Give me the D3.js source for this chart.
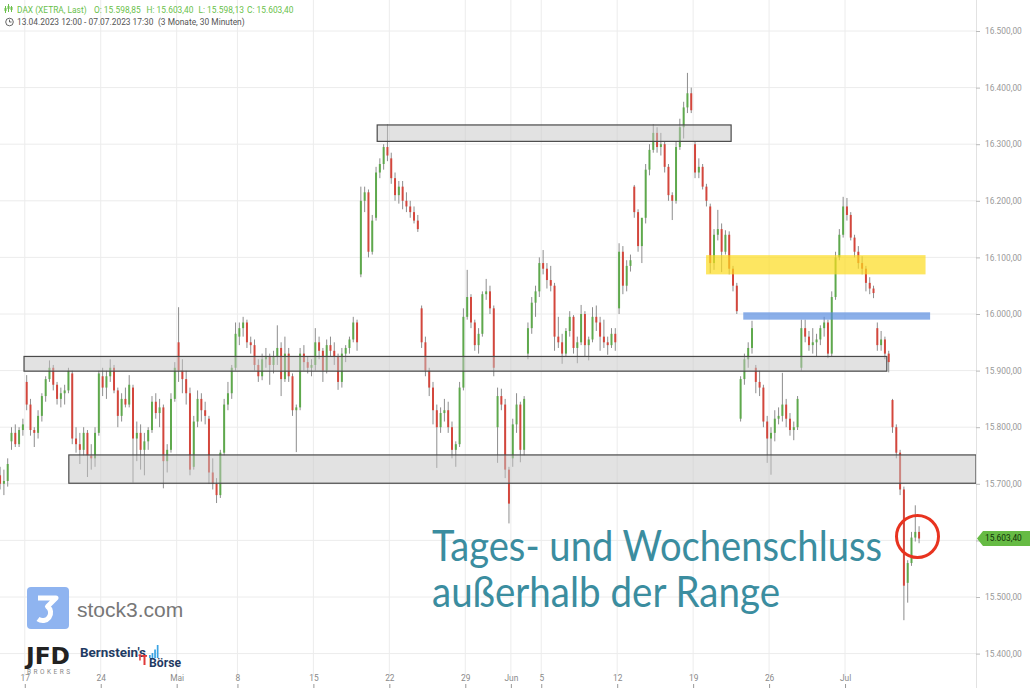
<!DOCTYPE html>
<html><head><meta charset="utf-8">
<script src="https://cdn.jsdelivr.net/npm/d3@7"></script>
<style>html,body{margin:0;padding:0;background:#fff;overflow:hidden}</style>
</head><body>
<svg id="chart" width="1030" height="688"></svg>
<script>
// ---------------- DATA ----------------
const tradingDays = ["13.04","14.04","17.04","18.04","19.04","20.04","21.04","24.04","25.04","26.04","27.04","28.04",
 "02.05","03.05","04.05","05.05","08.05","09.05","10.05","11.05","12.05","15.05","16.05","17.05","18.05","19.05",
 "22.05","23.05","24.05","25.05","26.05","29.05","30.05","31.05","01.06","02.06","05.06","06.06","07.06","08.06",
 "09.06","12.06","13.06","14.06","15.06","16.06","19.06","20.06","21.06","22.06","23.06","26.06","27.06","28.06",
 "29.06","30.06","03.07","04.07","05.07","06.07","07.07"];
const slotsPerDay = 4;      // one candle = a quarter of a trading day (approx. 2 h)
const firstSlot = 1;        // 13.04 starts at 12:00

// one group of four per trading day
const open = [
 15715,15700,15705,
 15775,15790,15770,15795, 15880,15840,15795,15790, 15820,15855,15885,15905, 15875,15850,15860,15865, 15895,15780,15770,15760,
 15790,15750,15745,15790, 15890,15870,15890,15905, 15865,15820,15850,15840, 15870,15780,15790,15760, 15775,15795,15845,15825,
 15835,15740,15760,15850, 15950,15900,15885,15860, 15730,15810,15850,15830, 15815,15720,15700,15680, 15755,15840,15860,15905,
 15960,15975,15985,15950, 15945,15910,15890,15920, 15925,15910,15925,15940, 15885,15930,15890,15830, 15835,15930,15915,15905,
 15910,15950,15935,15900, 15945,15935,15925,15880, 15930,15940,15955,15985, 16070,16200,16215,16110, 16170,16250,16265,16295,
 16275,16240,16210,16225, 16200,16190,16180,16165, 16010,15950,15900,15870, 15830,15800,15825,15830, 15800,15760,15770,15870,
 15995,16030,15985,15945, 15965,16035,16040,16010, 15800,15855,15840,15725, 15745,15805,15840,15760, 15930,15975,16020,16040,
 16090,16080,16060,16050, 15960,15950,15930,15970, 15995,15940,15950,16000, 15945,15955,15995,15985, 15960,15950,15945,15965,
 16010,16110,16050,16085, 16225,16180,16120,16170, 16255,16290,16320,16295, 16300,16260,16210,16200, 16295,16330,16365,16390,
 16300,16250,16260,16225, 16190,16090,16140,16150, 16110,16140,16080,16050, 15815,15885,15920,15940, 15905,15880,15870,15810,
 15780,15790,15815,15820, 15840,15815,15795,15800, 15905,15975,15960,15945, 15950,15955,15975,15985, 15930,16030,16100,16140,
 16190,16175,16135,16110, 16090,16080,16055,16045, 15975,15945,15955,15930, 15848,15800,15755,15690, 15525,15560,15605,15615];
const high = [
 15730,15725,15745,
 15800,15805,15800,15815, 15892,15850,15800,15830, 15860,15890,15918,15910, 15880,15870,15875,15905, 15900,15800,15790,15800,
 15795,15770,15800,15900, 15905,15900,15920,15910, 15870,15860,15870,15892, 15875,15810,15805,15790, 15800,15855,15860,15850,
 15840,15770,15860,15915, 16012,15920,15900,15870, 15820,15865,15860,15845, 15820,15745,15710,15760, 15850,15880,15910,15985,
 15985,15995,15990,15960, 15955,15920,15930,15940, 15930,15935,15980,15950, 15960,15940,15895,15840, 15940,15945,15925,15920,
 15975,15960,15940,15955, 15960,15950,15930,15940, 15945,15960,15995,15990, 16225,16225,16220,16175, 16260,16275,16300,16335,
 16285,16250,16235,16235, 16215,16200,16190,16175, 16015,15960,15905,15880, 15840,15835,15850,15845, 15810,15775,15880,16010,
 16078,16035,15990,15975, 16040,16062,16050,16015, 15870,15868,15850,15730, 15815,15860,15845,15855, 15985,16030,16050,16100,
 16113,16090,16085,16055, 15995,15965,15975,16005, 15998,15960,16016,16005, 15960,16012,16015,15995, 15990,15960,15975,15975,
 16125,16120,16095,16105, 16228,16185,16125,16265, 16300,16335,16330,16320, 16305,16265,16215,16305, 16345,16375,16426,16400,
 16305,16275,16265,16230, 16195,16150,16184,16160, 16148,16146,16085,16055, 15890,15930,15950,15988, 15910,15900,15875,15820,
 15800,15830,15835,15896, 15850,15825,15810,15855, 15990,15990,15970,15975, 15965,15980,15995,15990, 16040,16110,16150,16207,
 16205,16180,16140,16120, 16102,16085,16065,16050, 15985,15970,15960,15935, 15850,15805,15760,15695, 15565,15615,15662,15625];
const low = [
 15690,15680,15695,
 15760,15765,15765,15785, 15830,15785,15765,15780, 15810,15845,15880,15865, 15840,15835,15840,15860, 15770,15755,15735,15750,
 15712,15725,15730,15785, 15855,15850,15880,15860, 15800,15810,15835,15835, 15702,15740,15725,15715, 15760,15790,15815,15800,
 15692,15720,15755,15845, 15880,15860,15840,15715, 15725,15800,15810,15805, 15700,15690,15666,15675, 15750,15830,15850,15900,
 15945,15960,15940,15930, 15900,15880,15883,15905, 15875,15895,15910,15855, 15880,15880,15820,15756, 15830,15900,15895,15890,
 15900,15920,15880,15895, 15925,15910,15866,15870, 15915,15930,15950,15935, 16065,16180,16100,16105, 16165,16240,16255,16270,
 16230,16200,16195,16185, 16180,16170,16160,16145, 15940,15890,15855,15805, 15728,15790,15810,15790, 15745,15730,15765,15865,
 15990,15975,15935,15930, 15960,16025,16000,15890, 15737,15830,15710,15630, 15730,15790,15738,15750, 15920,15965,15995,16030,
 16070,16045,16040,15935, 15940,15912,15925,15960, 15930,15913,15945,15925, 15918,15950,15970,15935, 15940,15928,15940,15935,
 16000,16035,16040,16075, 16170,16110,16090,16160, 16245,16285,16285,16280, 16250,16200,16166,16195, 16290,16310,16355,16355,
 16240,16240,16220,16190, 16072,16078,16130,16074, 16105,16070,16040,16000, 15810,15875,15905,15930, 15860,15855,15800,15737,
 15716,15775,15805,15810, 15800,15785,15777,15795, 15900,15950,15935,15930, 15925,15945,15960,15922, 15925,16025,16095,16135,
 16165,16130,16100,16080, 16070,16040,16035,16028, 15935,15935,15920,15897, 15790,15745,15680,15459, 15490,15555,15598,15595];
const close = [
 15700,15705,15735,
 15790,15770,15795,15805, 15840,15795,15790,15820, 15855,15885,15905,15875, 15850,15860,15865,15900, 15780,15770,15760,15790,
 15750,15745,15790,15895, 15870,15890,15905,15865, 15820,15850,15840,15875, 15780,15790,15760,15775, 15795,15845,15825,15835,
 15740,15760,15850,15905, 15900,15885,15860,15725, 15810,15850,15830,15820, 15720,15700,15680,15755, 15840,15860,15905,15965,
 15975,15985,15950,15945, 15910,15890,15920,15925, 15910,15925,15940,15885, 15930,15890,15830,15835, 15930,15915,15905,15910,
 15950,15935,15900,15945, 15935,15925,15880,15930, 15940,15955,15985,15950, 16200,16215,16110,16165, 16250,16265,16295,16280,
 16240,16210,16225,16200, 16190,16180,16165,16150, 15950,15900,15870,15830, 15800,15825,15830,15800, 15760,15770,15870,15995,
 16030,15985,15945,15965, 16035,16040,16010,15905, 15855,15840,15725,15665, 15805,15840,15760,15850, 15975,16020,16040,16090,
 16080,16060,16050,15960, 15950,15930,15970,15995, 15940,15950,16000,15945, 15955,15995,15985,15960, 15950,15945,15965,15950,
 16110,16050,16085,16095, 16180,16120,16170,16255, 16290,16320,16295,16300, 16260,16210,16200,16295, 16330,16365,16390,16360,
 16250,16260,16225,16200, 16090,16140,16150,16110, 16140,16080,16050,16005, 15885,15920,15940,15975, 15880,15870,15810,15780,
 15790,15815,15820,15840, 15815,15795,15800,15850, 15975,15960,15945,15950, 15955,15975,15985,15930, 16030,16100,16140,16190,
 16175,16135,16110,16090, 16080,16055,16045,16037, 15945,15955,15930,15915, 15800,15755,15690,15520, 15560,15605,15615,15603.40];

const priceTicks = [15400,15500,15600,15700,15800,15900,16000,16100,16200,16300,16400,16500];
const tickDays   = ["17.04","24.04","02.05","08.05","15.05","22.05","29.05","01.06","05.06","12.06","19.06","26.06","03.07"];
const tickLabels = ["17","24","Mai","8","15","22","29","Jun","5","12","19","26","Jul"];

const headerKeys   = ["O","H","L","C"];
const headerValues = [15598.85, 15603.40, 15598.13, 15603.40];
const lastClose = 15603.40;

// zones: start/end as trading-day position, price bounds
const zoneKind  = ["range","range","range","yellow","blue"];
const zoneStart = [25.2, 1.95, 4.9, 46.85, 49.3];
const zoneEnd   = [48.5, 58.75, 70, 61.3, 61.6];
const zoneHigh  = [16334, 15925, 15751, 16104, 16003];
const zoneLow   = [16305, 15899, 15701, 16070, 15990];

// ---------------- CHART ----------------
const svg = d3.select("#chart");
const plotRight = 976;
const FONT = "Roboto, 'Liberation Sans', Arial, sans-serif";

const x = d3.scaleLinear().domain([0, 61]).range([-5.6, -5.6 + 61 * 15.19]);
const y = d3.scaleLinear().domain([15400, 16500]).range([653.6, 31]);
const de = d3.formatLocale({decimal: ",", thousands: ".", grouping: [3], currency: ["", "€"]});
const fmt = de.format(",.2f");

svg.append("defs").append("clipPath").attr("id", "plotclip")
  .append("rect").attr("x", 0).attr("y", 0).attr("width", plotRight).attr("height", 688);

// grid
const grid = svg.append("g");
grid.selectAll(".hg").data(priceTicks).join("line")
  .attr("x1", 0).attr("x2", plotRight).attr("y1", d => y(d)).attr("y2", d => y(d))
  .attr("stroke", "#ececec").attr("stroke-width", 1);
const tickIdx = tickDays.map(d => tradingDays.indexOf(d));
grid.selectAll(".vg").data(tickIdx).join("line")
  .attr("x1", d => x(d)).attr("x2", d => x(d)).attr("y1", 0).attr("y2", 676)
  .attr("stroke", "#ececec").attr("stroke-width", 1);

// header
const hdr = svg.append("g").attr("font-family", FONT).attr("font-size", 8.4);
const ic = hdr.append("g").attr("stroke", "#6abf4b").attr("stroke-width", 1);
[[5.5,6,13,8,11],[8.5,4,12,6,9],[11.5,6,12,7,10]].forEach(c => {
  ic.append("line").attr("x1", c[0]).attr("x2", c[0]).attr("y1", c[1]).attr("y2", c[2]);
  ic.append("rect").attr("x", c[0]-1).attr("y", c[3]).attr("width", 2).attr("height", c[4]-c[3]).attr("fill", "#6abf4b").attr("stroke", "none");
});
hdr.append("text").attr("x", 17).attr("y", 13).attr("fill", "#6abf4b").text("DAX (XETRA, Last)");
const hx = [94, 146.5, 198.5, 247];
headerKeys.forEach((k, i) => {
  hdr.append("text").attr("x", hx[i]).attr("y", 13).attr("fill", "#6abf4b").text(k + ": " + fmt(headerValues[i]));
});
hdr.append("circle").attr("cx", 9.5).attr("cy", 22).attr("r", 3.8).attr("fill", "none").attr("stroke", "#555").attr("stroke-width", 0.9);
hdr.append("path").attr("d", "M9.5,19.6V22H11.6").attr("fill", "none").attr("stroke", "#555").attr("stroke-width", 0.9);
hdr.append("text").attr("x", 17).attr("y", 25).attr("fill", "#555")
  .text(`${tradingDays[0]}.2023 12:00 - ${tradingDays[tradingDays.length-1]}.2023 17:30`);
hdr.append("text").attr("x", 158).attr("y", 25).attr("fill", "#555").text("(3 Monate, 30 Minuten)");

// candles
const N = close.length;
const candles = d3.range(N).map(i => {
  const t = i + firstSlot;
  const day = Math.floor(t / slotsPerDay), slot = t % slotsPerDay;
  return {pos: day + (slot + 0.5) / slotsPerDay, o: open[i], h: high[i], l: low[i], c: close[i]};
});
const slotW = x(1 / slotsPerDay) - x(0);
const cg = svg.append("g").attr("clip-path", "url(#plotclip)");
cg.selectAll(".wick").data(candles).join("line")
  .attr("x1", d => x(d.pos)).attr("x2", d => x(d.pos))
  .attr("y1", d => y(d.h)).attr("y2", d => y(d.l))
  .attr("stroke", "#8d8d8d").attr("stroke-width", 1);
cg.selectAll(".body").data(candles).join("rect")
  .attr("x", d => x(d.pos) - slotW * 0.26).attr("width", slotW * 0.52)
  .attr("y", d => y(Math.max(d.o, d.c)))
  .attr("height", d => Math.max(1, Math.abs(y(d.o) - y(d.c))))
  .attr("fill", d => d.c >= d.o ? "#5ea94c" : "#d4463c");

// zones
const zg = svg.append("g").attr("clip-path", "url(#plotclip)");
zoneKind.forEach((k, i) => {
  const r = zg.append("rect")
    .attr("x", x(zoneStart[i])).attr("width", Math.min(x(zoneEnd[i]), plotRight) - x(zoneStart[i]))
    .attr("y", y(zoneHigh[i])).attr("height", y(zoneLow[i]) - y(zoneHigh[i]));
  if (k === "range") r.attr("fill", "#c6c6c6").attr("fill-opacity", 0.5).attr("stroke", "#4a4a4a").attr("stroke-width", 1.2);
  else if (k === "yellow") r.attr("fill", "#fcdc1e").attr("fill-opacity", 0.7);
  else r.attr("fill", "#5a8de0").attr("fill-opacity", 0.7);
});

// right axis (the 15.600 label sits under the last-price tag)
const ly = y(lastClose);
const ya = svg.append("g").attr("transform", `translate(${plotRight},0)`)
  .call(d3.axisRight(y).tickValues(priceTicks).tickFormat(fmt).tickSize(4).tickPadding(5));
ya.select(".domain").attr("stroke", "#e2e2e2").attr("d", "M0.5,0V688");
ya.selectAll(".tick line").attr("stroke", "#bbb");
ya.selectAll(".tick text").attr("fill", "#9a9a9a").attr("font-family", FONT).attr("font-size", 8.4);
ya.selectAll(".tick").filter(d => Math.abs(y(d) - ly) < 12).select("text").remove();

// last price tag
svg.append("path")
  .attr("d", `M${plotRight+1},${ly} L${plotRight+7},${ly-7.5} H1030 V${ly+7.5} H${plotRight+7} Z`)
  .attr("fill", "#66bb44");
svg.append("text").attr("x", 985).attr("y", ly + 3).attr("font-family", FONT).attr("font-size", 8.4)
  .attr("fill", "#12320a").text(fmt(lastClose));

// bottom axis
const xa = svg.append("g").attr("transform", "translate(0,688)")
  .call(d3.axisTop(x).tickValues(tickIdx).tickFormat((d, i) => tickLabels[i]).tickSize(4).tickPadding(3));
xa.select(".domain").remove();
xa.selectAll(".tick line").attr("stroke", "#999");
xa.selectAll(".tick text").attr("fill", "#8a8a8a").attr("font-family", FONT).attr("font-size", 8.4);

// red circle around the close
svg.append("circle").attr("cx", 917.5).attr("cy", 536.5).attr("r", 21)
  .attr("fill", "none").attr("stroke", "#e8331f").attr("stroke-width", 3);

// annotation
const ann = svg.append("g").attr("font-family", "Lato, 'Open Sans', sans-serif").attr("fill", "#3b8d9f").attr("font-size", 43);
ann.append("text").attr("x", 432).attr("y", 561).attr("textLength", 450).attr("lengthAdjust", "spacingAndGlyphs").text("Tages- und Wochenschluss");
ann.append("text").attr("x", 432).attr("y", 607).attr("textLength", 348).attr("lengthAdjust", "spacingAndGlyphs").text("außerhalb der Range");

// logos
const lg = svg.append("g");
lg.append("rect").attr("x", 27).attr("y", 587).attr("width", 42).attr("height", 42).attr("rx", 4).attr("fill", "#8fb4f0");
lg.append("path").attr("d", "M38,598 H56 L47.5,606.5 A7.6,7.6 0 1 1 38,619")
  .attr("fill", "none").attr("stroke", "#fff").attr("stroke-width", 5).attr("stroke-linejoin", "round");
lg.append("text").attr("x", 77).attr("y", 617).attr("font-family", "'Liberation Sans', Arial, sans-serif")
  .attr("font-size", 21).attr("fill", "#777").text("stock3.com");
lg.append("text").attr("x", 26).attr("y", 664).attr("font-family", "'DejaVu Sans', sans-serif").attr("font-weight", "bold")
  .attr("font-size", 23).attr("fill", "#222").attr("textLength", 44).attr("lengthAdjust", "spacingAndGlyphs").text("JFD");
lg.append("text").attr("x", 27).attr("y", 673.5).attr("font-family", FONT).attr("font-size", 6.5)
  .attr("fill", "#888").attr("textLength", 43).attr("lengthAdjust", "spacing").text("BROKERS");
lg.append("text").attr("x", 80).attr("y", 657).attr("font-family", FONT).attr("font-weight", "bold")
  .attr("font-size", 12.5).attr("fill", "#1f3b63").attr("textLength", 66).attr("lengthAdjust", "spacingAndGlyphs").text("Bernstein's");
[[149,3],[151.6,5],[154.2,8.5],[156.8,13]].forEach(b => {
  lg.append("rect").attr("x", b[0]).attr("y", 658 - b[1]).attr("width", 1.7).attr("height", b[1]).attr("fill", "#3aa3e3");
});
lg.append("rect").attr("x", 138.5).attr("y", 654.5).attr("width", 3).attr("height", 1.6).attr("fill", "#e03a3a");
lg.append("rect").attr("x", 139.2).attr("y", 654.5).attr("width", 1.5).attr("height", 6).attr("fill", "#e03a3a");
lg.append("rect").attr("x", 143.5).attr("y", 655).attr("width", 2).attr("height", 10).attr("fill", "#e03a3a");
lg.append("rect").attr("x", 142).attr("y", 655).attr("width", 5).attr("height", 1.8).attr("fill", "#e03a3a");
lg.append("text").attr("x", 149).attr("y", 667).attr("font-family", FONT).attr("font-weight", "bold")
  .attr("font-size", 12.5).attr("fill", "#1f3b63").attr("textLength", 32).attr("lengthAdjust", "spacingAndGlyphs").text("Börse");
</script>
</body></html>
